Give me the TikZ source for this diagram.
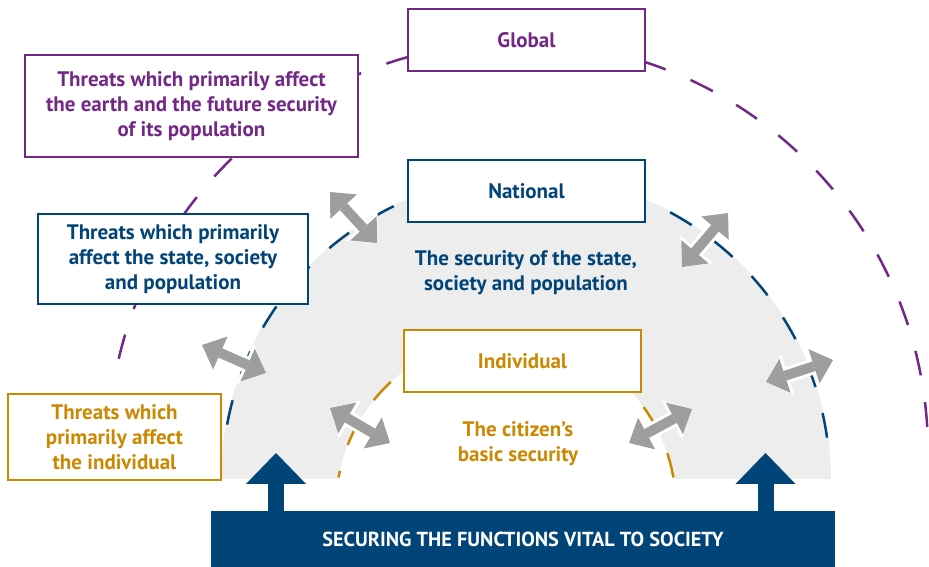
\documentclass[tikz,border=0pt]{standalone}
\usepackage{fontspec}
\setmainfont{PT Sans}
\usetikzlibrary{positioning,arrows.meta}
\definecolor{globpurple}{RGB}{115,40,135}
\definecolor{natblue}{RGB}{0,68,120}
\definecolor{indorange}{RGB}{204,136,0}
\definecolor{arrowgrey}{RGB}{158,158,158}
\definecolor{fillgrey}{RGB}{237,237,237}
\tikzstyle{level} = [draw, fill=white, line width=2pt, minimum width=237pt, minimum height=62pt, inner sep=0pt, font=\bfseries\fontsize{21}{25}\selectfont]
\tikzstyle{threat} = [draw, fill=white, line width=1.2pt, inner sep=0pt, align=center, font=\bfseries\fontsize{21}{25}\selectfont]
\tikzstyle{desc} = [inner sep=0pt, align=center, font=\bfseries\fontsize{21}{25}\selectfont]
\tikzstyle{ring} = [line width=2.5pt, dash pattern=on 25pt off 27pt]

\begin{document}
\begin{tikzpicture}[x=1pt,y=1pt,
                twoway/.style = {line width=10pt, draw=arrowgrey,
                  {Triangle[length=20pt,width=36pt,line width=0pt]}-{Triangle[length=20pt,width=36pt,line width=0pt]},
                  preaction={draw=white, line width=16pt,
                  {Triangle[length=23pt,width=44pt,line width=0pt]}-{Triangle[length=23pt,width=44pt,line width=0pt]}}},
                uparrow/.style = {line width=16pt, draw=natblue,
                  -{Triangle[length=31pt,width=60pt,line width=0pt]}}]
                \useasboundingbox (0,0) rectangle (929,567);
                % centres of the three rings
                \coordinate (c1) at (518,115);
                \coordinate (c2) at (526,87);
                \coordinate (c3) at (506,60);
                \begin{scope}
                \clip (0,88) rectangle (929,567);
                \fill[fillgrey, even odd rule] (c2) circle[radius=305] (c3) circle[radius=170];
                \end{scope}
                \draw[ring, globpurple] (c1) ++(3.5:410) arc[start angle=3.5, end angle=169, radius=410];
                \draw[ring, natblue] (c2) ++(8:304) arc[start angle=8, end angle=172, radius=304];
                \draw[ring, indorange] (c3) ++(10:170) arc[start angle=10, end angle=170, radius=170];
                % two-way arrows across the rings
                \coordinate (ga1) at (330,375); \coordinate (gb1) at (377,324);
                \coordinate (ga2) at (202,222); \coordinate (gb2) at (266,194);
                \coordinate (ga3) at (330,159); \coordinate (gb3) at (390,124);
                \coordinate (ga4) at (682,300); \coordinate (gb4) at (728,354);
                \coordinate (ga5) at (766,185); \coordinate (gb5) at (833,207);
                \coordinate (ga6) at (629,124); \coordinate (gb6) at (692,158);
                \draw[twoway] (ga1) -- (gb1);
                \draw[twoway] (ga2) -- (gb2);
                \draw[twoway] (ga3) -- (gb3);
                \draw[twoway] (ga4) -- (gb4);
                \draw[twoway] (ga5) -- (gb5);
                \draw[twoway] (ga6) -- (gb6);
                \node[level, draw=globpurple, text=globpurple] (level1) at (526.5,527) {Global};
                \node[level, draw=natblue, text=natblue] (level2) at (526.5,376) {National};
                \node[level, draw=indorange, text=indorange] (level3) at (522.5,206) {Individual};
                \node[threat, draw=globpurple, text=globpurple, minimum width=333pt, minimum height=102pt] (threat1) at (191.5,461) {Threats which primarily affect\\the earth and the future security\\of its population};
                \node[threat, draw=natblue, text=natblue, minimum width=270pt, minimum height=90pt] (threat2) at (173,308) {Threats which primarily\\affect the state, society\\and population};
                \node[threat, draw=indorange, text=indorange, minimum width=213pt, minimum height=86pt] (threat3) at (114.5,130) {Threats which\\primarily affect\\the individual};
                \node[desc, text=natblue] (desc2) at (526,294) {The security of the state,\\society and population};
                \node[desc, text=indorange] (desc3) at (518,123) {The citizen’s\\basic security};
                \node[fill=natblue, text=white, minimum width=624pt, minimum height=56pt, inner sep=0pt, font=\bfseries\fontsize{20.3}{25}\selectfont] (bar1) at (523,28) {SECURING THE FUNCTIONS VITAL TO SOCIETY};
                \coordinate (tip1) at (276,114);
                \coordinate (tip2) at (765.5,114);
                \draw[uparrow] (bar1.north -| tip1) -- (tip1);
                \draw[uparrow] (bar1.north -| tip2) -- (tip2);
\end{tikzpicture}
\end{document}
